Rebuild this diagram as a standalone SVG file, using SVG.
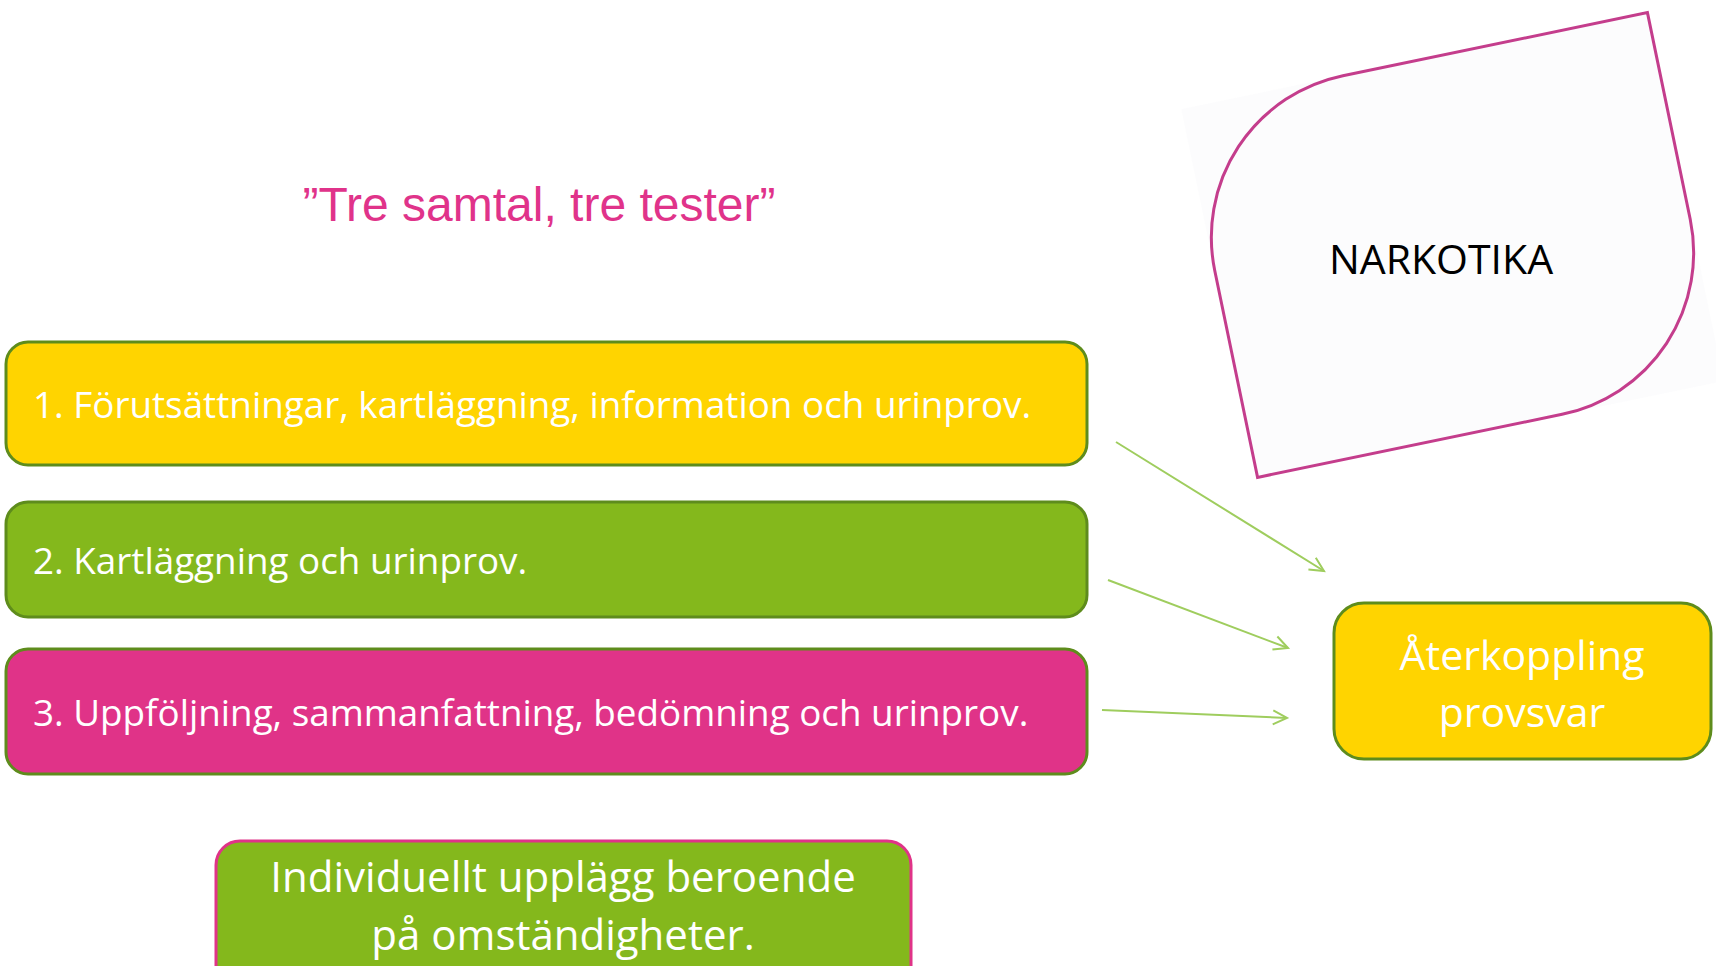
<svg xmlns="http://www.w3.org/2000/svg" width="1716" height="966" viewBox="0 0 1716 966">
<style>
.box{stroke:#5E8C1C;stroke-width:3}
.wt{fill:#FFFFFF;font-family:"Open Sans","Liberation Sans",sans-serif}
.big{font-size:41px;text-anchor:middle}
.big2{font-size:42px;text-anchor:middle}
.row{font-size:36.8px}
.conn{stroke:#9FCD5E;stroke-width:2;fill:none}
</style>
<defs>
<marker id="chev" markerWidth="20" markerHeight="20" refX="15" refY="8" orient="auto" markerUnits="userSpaceOnUse" viewBox="0 0 20 16">
<path d="M1,1 L15,8 L1,15" fill="none" stroke="#9FCD5E" stroke-width="2"/>
</marker>
</defs>
<rect width="1716" height="966" fill="#FFFFFF"/>
<g id="title">
<text x="539" y="221" font-family="Liberation Sans, Arial, sans-serif" font-size="48" fill="#E0338A" text-anchor="middle">”Tre samtal, tre tester”</text>
</g>
<g id="narkotika">
<g transform="translate(1452.5,245) rotate(-11.7)">
<rect x="-238" y="-188" width="476" height="376" fill="#F9FAFB" opacity="0.5"/>
<path d="M-73,-188 H238 V23 A165,165 0 0 1 73,188 H-238 V-23 A165,165 0 0 1 -73,-188 Z" fill="#FCFCFD" stroke="#C43D8C" stroke-width="3"/>
</g>
<text x="1441" y="274" font-family="Open Sans, Liberation Sans, sans-serif" font-size="41" fill="#000000" text-anchor="middle">NARKOTIKA</text>
</g>
<g id="step1">
<rect class="box" x="6" y="342" width="1081" height="123" rx="22" fill="#FFD400"/>
<text class="wt row" x="33" y="418">1. Förutsättningar, kartläggning, information och urinprov.</text>
</g>
<g id="step2">
<rect class="box" x="6" y="502" width="1081" height="115" rx="22" fill="#84B81C"/>
<text class="wt row" x="33" y="574">2. Kartläggning och urinprov.</text>
</g>
<g id="step3">
<rect class="box" x="6" y="649" width="1081" height="125" rx="22" fill="#E03388"/>
<text class="wt row" x="33" y="726">3. Uppföljning, sammanfattning, bedömning och urinprov.</text>
</g>
<g id="feedback">
<rect class="box" x="1334" y="603" width="377" height="156" rx="30" fill="#FFD400"/>
<text class="wt big" x="1522" y="670">Återkoppling</text>
<text class="wt big" x="1522" y="727">provsvar</text>
</g>
<g id="individual">
<rect x="216" y="841" width="695" height="160" rx="24" fill="#84B81C" stroke="#E03388" stroke-width="3"/>
<text class="wt big2" x="563" y="892">Individuellt upplägg beroende</text>
<text class="wt big2" x="563" y="950">på omständigheter.</text>
</g>
<g id="connectors">
<line class="conn" x1="1116" y1="442" x2="1324" y2="571" marker-end="url(#chev)"/>
<line class="conn" x1="1108" y1="580" x2="1288" y2="648" marker-end="url(#chev)"/>
<line class="conn" x1="1102" y1="710" x2="1287" y2="718" marker-end="url(#chev)"/>
</g>
</svg>
